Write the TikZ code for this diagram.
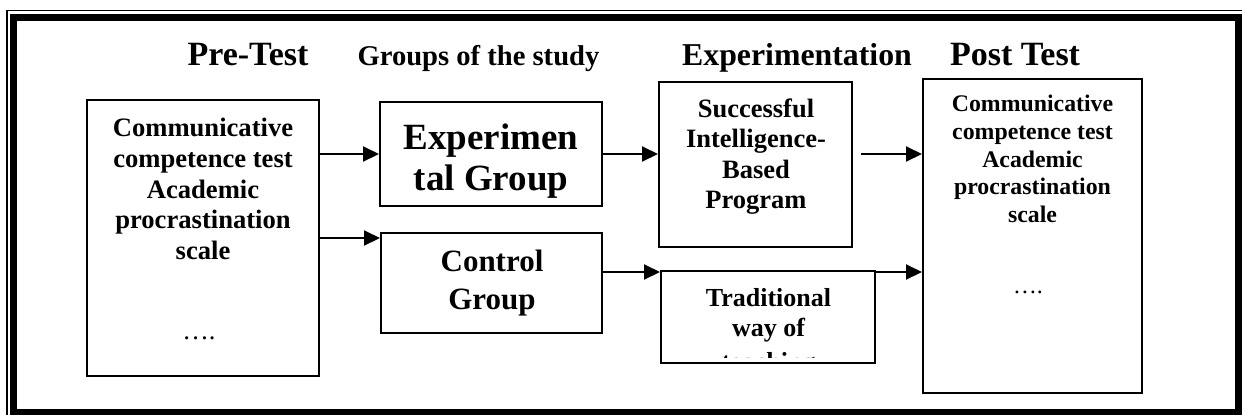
\documentclass[tikz,border=0pt]{standalone}
\usepackage{fontspec}
\setmainfont{Liberation Serif}
\usepackage{tikz}
\usetikzlibrary{arrows.meta, positioning, calc}

\begin{document}
\begin{tikzpicture}[x=0.5pt, y=-0.5pt,
        box/.style={rectangle, draw, line width=1pt, inner sep=0pt},
        title/.style={anchor=base, font=\bfseries},
        txt/.style={align=center, font=\bfseries},
        arr/.style={-{Triangle[length=8pt, width=7.5pt]}, line width=1pt}
    ]
        \useasboundingbox (0,0) rectangle (1242,414);
        \clip (0,0) rectangle (1242,414);

        % Frame
        \draw[line width=0.8pt] (7,10.3) rectangle (1246,419);
        \draw[line width=3.5pt] (13.5,17.8) rectangle (1238.5,412.5);

        % Titles
        \node[title, font=\fontsize{17}{20}\bfseries\selectfont] (tpre) at (248,65) {Pre-Test};
        \node[title, font=\fontsize{14.3}{16}\bfseries\selectfont] (tgrp) at (478.5,65) {Groups of the study};
        \node[title, font=\fontsize{15.9}{18}\bfseries\selectfont] (texp) at (797,65) {Experimentation};
        \node[title, font=\fontsize{17}{20}\bfseries\selectfont] (tpost) at (1015,65) {Post Test};

        % Pre-test
        \node[box, minimum width=116pt, minimum height=138pt] (pre) at (203,238) {};
        \node[txt, font=\fontsize{13.3}{15.3}\bfseries\selectfont] (pretxt) at (203,189)
            {Communicative\\competence test\\Academic\\procrastination\\scale};
        \node[font=\fontsize{13.3}{15.3}\selectfont] (predots) at (199,338) {….};

        % Groups
        \node[box, minimum width=111pt, minimum height=52pt] (expg) at (491,154) {};
        \node[txt, font=\fontsize{18.5}{20.5}\bfseries\selectfont] (expgtxt) at (491,161)
            {Experimen\\tal Group};
        \node[box, minimum width=110.5pt, minimum height=50pt] (ctrl) at (491.5,283) {};
        \node[txt, font=\fontsize{15.5}{19}\bfseries\selectfont] (ctrltxt) at (492,283)
            {Control\\Group};

        % Experimentation
        \node[box, minimum width=96.5pt, minimum height=82.5pt] (succ) at (755.5,164.5) {};
        \node[txt, font=\fontsize{13.25}{15.25}\bfseries\selectfont] (succtxt) at (756,156.5)
            {Successful\\Intelligence-\\Based\\Program};
        \node[box, minimum width=107pt, minimum height=46pt] (trad) at (768,317) {};
        \begin{scope}
            \clip (trad.north west) rectangle ([yshift=3.5pt]trad.south east);
            \node[txt, font=\fontsize{13}{15}\bfseries\selectfont, anchor=north] (tradtxt) at (768.5,281)
                {Traditional\\way of\\[2pt]teaching};
        \end{scope}

        % Post test
        \node[box, minimum width=109.5pt, minimum height=157pt] (post) at (1032.5,236) {};
        \node[txt, font=\fontsize{11.9}{13.85}\bfseries\selectfont] (posttxt) at (1032.5,159)
            {Communicative\\competence test\\Academic\\procrastination\\scale};
        \node[font=\fontsize{11.9}{13.85}\selectfont] (postdots) at (1028,292) {….};

        % Arrows
        \coordinate (c2) at ([yshift=-3pt]ctrl.north west);
        \coordinate (t2) at ([yshift=-1pt]trad.north west);
        \coordinate (r1) at ([xshift=4pt]succ.east |- expg.east);
        \draw[arr] (pre.east |- expg.west) -- (expg.west);
        \draw[arr] (pre.east |- c2) -- (c2);
        \draw[arr] (expg.east) -- (succ.west |- expg.east);
        \draw[arr] (ctrl.east |- t2) -- (t2);
        \draw[arr] (r1) -- (post.west |- r1);
        \draw[arr] (trad.east |- t2) -- (post.west |- t2);

    \end{tikzpicture}
\end{document}
